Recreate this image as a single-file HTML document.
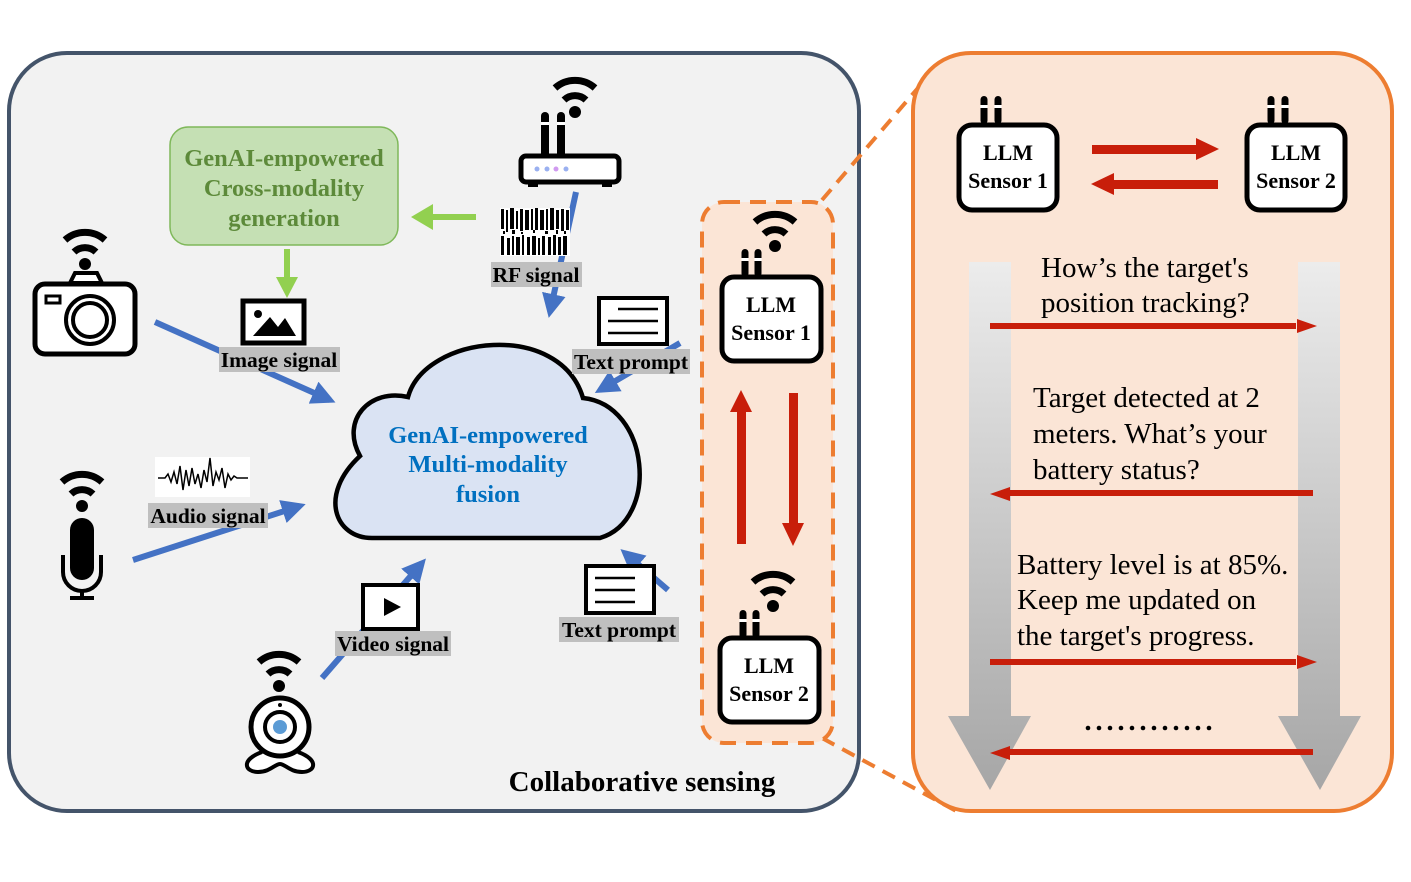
<!DOCTYPE html>
<html><head><meta charset="utf-8"><style>
html,body{margin:0;padding:0;background:#fff;width:1411px;height:882px;overflow:hidden}
svg{display:block}
text{font-family:"Liberation Serif",serif}
.b{font-weight:bold}
</style></head><body>
<svg width="1411" height="882" viewBox="0 0 1411 882" xmlns="http://www.w3.org/2000/svg">
<defs>
<g id="wifi">
<circle cx="0" cy="0" r="6" fill="#000"/>
<path d="M-11,-12 A16,16 0 0 1 11,-12" fill="none" stroke="#000" stroke-width="7"/>
<path d="M-20,-24 A30,30 0 0 1 20,-24" fill="none" stroke="#000" stroke-width="7"/>
</g>
<g id="ant">
<rect x="-3.5" y="0" width="7" height="28" rx="3.5" fill="#000"/>
<rect x="-3.5" y="9" width="7" height="3" fill="#fff"/>
</g>
<linearGradient id="gg" x1="0" y1="0" x2="0" y2="1">
<stop offset="0" stop-color="#ececec"/><stop offset="1" stop-color="#a6a6a6"/>
</linearGradient>
<marker id="bl" markerWidth="4" markerHeight="4" refX="3" refY="2" orient="auto" markerUnits="strokeWidth"><path d="M0,0 L4,2 L0,4 Z" fill="#4472c4"/></marker>
</defs>

<rect x="9" y="53" width="850" height="758" rx="58" fill="#f2f2f2" stroke="#44546a" stroke-width="4"/>
<rect x="913" y="53" width="479" height="758" rx="58" fill="#fbe5d6" stroke="#ed7d31" stroke-width="4"/>
<line x1="822" y1="200" x2="918" y2="88" stroke="#ed7d31" stroke-width="4" stroke-dasharray="14,9"/>
<line x1="822" y1="738" x2="958" y2="812" stroke="#ed7d31" stroke-width="4" stroke-dasharray="14,9"/>
<rect x="702" y="202" width="131" height="541" rx="22" fill="#fbe5d6" stroke="#ed7d31" stroke-width="4" stroke-dasharray="16,10"/>

<rect x="170" y="127" width="228" height="118" rx="18" fill="#c5e0b4" stroke="#7fb85a" stroke-width="1.5"/>
<text x="284" y="166" text-anchor="middle" class="b" font-size="24.5" fill="#5d8a3a">GenAI-empowered</text>
<text x="284" y="196" text-anchor="middle" class="b" font-size="24.5" fill="#5d8a3a">Cross-modality</text>
<text x="284" y="226" text-anchor="middle" class="b" font-size="24.5" fill="#5d8a3a">generation</text>
<line x1="476" y1="217" x2="430" y2="217" stroke="#92d050" stroke-width="6"/>
<path d="M411,217 L433,204 L433,230 Z" fill="#92d050"/>
<line x1="287" y1="249" x2="287" y2="280" stroke="#92d050" stroke-width="6"/>
<path d="M287,298 L276,277 L298,277 Z" fill="#92d050"/>

<path d="M372,538 C335,538 318,495 360,456 C340,420 370,388 408,397 C425,335 560,320 583,398 C650,405 660,520 600,538 Z" fill="#dae3f3" stroke="#000" stroke-width="4.5"/>
<text x="488" y="443" text-anchor="middle" class="b" font-size="24.5" fill="#0070c0">GenAI-empowered</text>
<text x="488" y="472" text-anchor="middle" class="b" font-size="24.5" fill="#0070c0">Multi-modality</text>
<text x="488" y="502" text-anchor="middle" class="b" font-size="24.5" fill="#0070c0">fusion</text>

<g stroke="#4472c4" stroke-width="6" fill="none" marker-end="url(#bl)">
<line x1="155" y1="322" x2="330" y2="400"/>
<line x1="133" y1="560" x2="300" y2="506"/>
<line x1="322" y1="678" x2="422" y2="563"/>
<line x1="576" y1="192" x2="550" y2="312"/>
<line x1="680" y1="343" x2="600" y2="390"/>
<line x1="668" y1="590" x2="625" y2="553"/>
</g>

<!-- camera -->
<use href="#wifi" x="85" y="264"/>
<path d="M70,283 L75,273 L97,273 L102,283 Z" fill="#fff" stroke="#000" stroke-width="4"/>
<rect x="35" y="284" width="100" height="70" rx="10" fill="#fff" stroke="#000" stroke-width="5"/>
<rect x="46" y="296" width="14" height="7" fill="#fff" stroke="#000" stroke-width="3"/>
<circle cx="90" cy="320" r="24" fill="#fff" stroke="#000" stroke-width="4"/>
<circle cx="90" cy="320" r="17" fill="#fff" stroke="#000" stroke-width="4"/>

<rect x="243" y="301" width="61" height="42" fill="#fff" stroke="#000" stroke-width="5"/>
<circle cx="258" cy="314" r="4" fill="#000"/>
<path d="M253,336 L270,317 L278,327 L285,318 L296,336 Z" fill="#000"/>
<rect x="219" y="347" width="121" height="25" fill="#bfbfbf"/>
<text x="279" y="367" text-anchor="middle" class="b" font-size="21.5">Image signal</text>

<!-- router -->
<use href="#wifi" x="575" y="112"/>
<rect x="541" y="112" width="8" height="46" rx="4" fill="#000"/><rect x="541" y="122" width="8" height="3" fill="#fff"/>
<rect x="557" y="112" width="8" height="46" rx="4" fill="#000"/><rect x="557" y="122" width="8" height="3" fill="#fff"/>
<rect x="521" y="156" width="98" height="26" rx="5" fill="#fff" stroke="#000" stroke-width="5"/>
<rect x="528" y="182" width="10" height="5" fill="#000"/><rect x="602" y="182" width="10" height="5" fill="#000"/>
<circle cx="537" cy="169" r="2.5" fill="#9ab0f0"/><circle cx="547" cy="169" r="2.5" fill="#9ab0f0"/><circle cx="556" cy="169" r="2.5" fill="#d09af0"/><circle cx="566" cy="169" r="2.5" fill="#9ab0f0"/>
<g fill="#000">
<rect x="500" y="208" width="70" height="48" fill="#fff"/>
<path d="M501,209h3v20h-3zM506,210h2v22h-2zM510,208h4v21h-4zM516,211h2v18h-2zM520,209h3v22h-3zM525,210h4v20h-4zM531,209h2v21h-2zM535,208h3v22h-3zM540,210h4v20h-4zM546,209h2v21h-2zM550,208h4v22h-4zM556,210h3v19h-3zM561,209h3v22h-3zM566,210h3v20h-3z"/>
<path d="M501,236h3v19h-3zM507,238h3v17h-3zM512,236h2v19h-2zM516,237h4v18h-4zM522,235h2v20h-2zM527,237h3v18h-3zM532,236h4v19h-4zM538,238h2v17h-2zM542,236h3v19h-3zM548,237h3v18h-3zM553,235h3v20h-3zM558,237h3v18h-3zM563,236h4v19h-4z"/>
<path d="M503,231h2v3h-2zM512,230h3v4h-3zM521,232h2v2h-2zM533,230h2v3h-2zM545,231h3v3h-3zM556,230h2v4h-2zM564,231h2v3h-2z"/>
</g>
<rect x="491" y="262" width="91" height="25" fill="#bfbfbf"/>
<text x="536" y="282" text-anchor="middle" class="b" font-size="21.5">RF signal</text>

<rect x="599" y="298" width="68" height="46" fill="#fff" stroke="#000" stroke-width="4"/>
<path d="M618,309h40M608,321h50M608,333h50" stroke="#000" stroke-width="2.5"/>
<rect x="572" y="349" width="118" height="25" fill="#bfbfbf"/>
<text x="631" y="369" text-anchor="middle" class="b" font-size="21.5">Text prompt</text>

<!-- mic -->
<use href="#wifi" x="82" y="506"/>
<rect x="70" y="518" width="24" height="62" rx="12" fill="#000"/>
<path d="M63,555 L63,572 A19,19 0 0 0 101,572 L101,555" fill="none" stroke="#000" stroke-width="4"/>
<rect x="80" y="590" width="4" height="8" fill="#000"/><rect x="70" y="596" width="24" height="4" fill="#000"/>
<rect x="155" y="457" width="95" height="40" fill="#fff"/>
<path d="M158,478 L165,478 L168,474 L171,482 L174,472 L177,484 L180,466 L183,490 L186,470 L189,486 L192,468 L195,484 L198,474 L201,488 L204,470 L207,482 L210,458 L213,486 L216,472 L219,480 L222,468 L225,488 L228,474 L231,480 L234,476 L237,478 L248,478" fill="none" stroke="#000" stroke-width="1.5"/>
<rect x="148" y="503" width="120" height="25" fill="#bfbfbf"/>
<text x="208" y="523" text-anchor="middle" class="b" font-size="21.5">Audio signal</text>

<rect x="363" y="585" width="55" height="44" fill="#fff" stroke="#000" stroke-width="4"/>
<path d="M384,598 L384,616 L401,607 Z" fill="#000"/>
<rect x="335" y="631" width="116" height="25" fill="#bfbfbf"/>
<text x="393" y="651" text-anchor="middle" class="b" font-size="21.5">Video signal</text>

<!-- webcam -->
<use href="#wifi" x="279" y="686"/>
<path d="M262,752 C240,760 245,772 258,772 C270,772 275,764 280,764 C285,764 290,772 302,772 C315,772 320,760 298,752" fill="#fff" stroke="#000" stroke-width="4"/>
<circle cx="280" cy="727" r="29" fill="#fff" stroke="#000" stroke-width="5"/>
<circle cx="280" cy="727" r="15" fill="#fff" stroke="#000" stroke-width="4"/>
<circle cx="280" cy="727" r="7" fill="#5b9bd5"/>
<circle cx="280" cy="705" r="2" fill="#000"/>

<rect x="586" y="566" width="68" height="47" fill="#fff" stroke="#000" stroke-width="4"/>
<path d="M595,578h40M595,590h40M595,602h40" stroke="#000" stroke-width="2.5"/>
<rect x="559" y="617" width="120" height="25" fill="#bfbfbf"/>
<text x="619" y="637" text-anchor="middle" class="b" font-size="21.5">Text prompt</text>

<text x="642" y="791" text-anchor="middle" class="b" font-size="29">Collaborative sensing</text>

<!-- dashed box sensors -->
<use href="#wifi" x="775" y="246"/>
<use href="#ant" x="745" y="249"/><use href="#ant" x="758" y="249"/>
<rect x="722" y="277" width="99" height="84" rx="12" fill="#fff" stroke="#000" stroke-width="5"/>
<text x="771" y="312" text-anchor="middle" class="b" font-size="22">LLM</text>
<text x="771" y="340" text-anchor="middle" class="b" font-size="22">Sensor 1</text>
<use href="#wifi" x="773" y="606"/>
<use href="#ant" x="743" y="610"/><use href="#ant" x="756" y="610"/>
<rect x="720" y="638" width="99" height="84" rx="12" fill="#fff" stroke="#000" stroke-width="5"/>
<text x="769" y="673" text-anchor="middle" class="b" font-size="22">LLM</text>
<text x="769" y="701" text-anchor="middle" class="b" font-size="22">Sensor 2</text>
<rect x="737" y="410" width="9" height="134" fill="#c81e0a"/>
<path d="M741,390 L752,412 L730,412 Z" fill="#c81e0a"/>
<rect x="789" y="393" width="9" height="132" fill="#c81e0a"/>
<path d="M793,546 L782,523 L804,523 Z" fill="#c81e0a"/>

<use href="#ant" x="984" y="96"/><use href="#ant" x="998" y="96"/>
<rect x="959" y="125" width="98" height="85" rx="13" fill="#fff" stroke="#000" stroke-width="5"/>
<text x="1008" y="160" text-anchor="middle" class="b" font-size="22">LLM</text>
<text x="1008" y="188" text-anchor="middle" class="b" font-size="22">Sensor 1</text>
<use href="#ant" x="1271" y="96"/><use href="#ant" x="1285" y="96"/>
<rect x="1247" y="125" width="98" height="85" rx="13" fill="#fff" stroke="#000" stroke-width="5"/>
<text x="1296" y="160" text-anchor="middle" class="b" font-size="22">LLM</text>
<text x="1296" y="188" text-anchor="middle" class="b" font-size="22">Sensor 2</text>
<rect x="1092" y="145" width="106" height="9" fill="#c81e0a"/>
<path d="M1219,149 L1196,138 L1196,160 Z" fill="#c81e0a"/>
<rect x="1112" y="180" width="106" height="9" fill="#c81e0a"/>
<path d="M1091,184 L1114,173 L1114,195 Z" fill="#c81e0a"/>

<path d="M969,262 L1011,262 L1011,716 L1031,716 L990,790 L948,716 L969,716 Z" fill="url(#gg)"/>
<path d="M1298,262 L1340,262 L1340,716 L1361,716 L1320,790 L1278,716 L1298,716 Z" fill="url(#gg)"/>

<g font-size="29">
<text x="1041" y="277">How’s the target's</text>
<text x="1041" y="312">position tracking?</text>
<text x="1033" y="407">Target detected at 2</text>
<text x="1033" y="443">meters. What’s your</text>
<text x="1033" y="479">battery status?</text>
<text x="1017" y="574">Battery level is at 85%.</text>
<text x="1017" y="609">Keep me updated on</text>
<text x="1017" y="645">the target's progress.</text>
</g>
<g fill="#000">
<circle cx="1088" cy="728" r="2.3"/><circle cx="1099" cy="728" r="2.3"/><circle cx="1110" cy="728" r="2.3"/><circle cx="1121" cy="728" r="2.3"/><circle cx="1132" cy="728" r="2.3"/><circle cx="1143" cy="728" r="2.3"/><circle cx="1154" cy="728" r="2.3"/><circle cx="1165" cy="728" r="2.3"/><circle cx="1176" cy="728" r="2.3"/><circle cx="1187" cy="728" r="2.3"/><circle cx="1198" cy="728" r="2.3"/><circle cx="1209" cy="728" r="2.3"/>
</g>

<g fill="#c81e0a">
<rect x="990" y="323" width="306" height="6"/><path d="M1317,326 L1297,319 L1297,333 Z"/>
<rect x="1008" y="490" width="305" height="6"/><path d="M990,494 L1010,487 L1010,501 Z"/>
<rect x="990" y="659" width="306" height="6"/><path d="M1317,662 L1297,655 L1297,669 Z"/>
<rect x="1008" y="749" width="305" height="6"/><path d="M990,753 L1010,746 L1010,760 Z"/>
</g>
</svg>
</body></html>
